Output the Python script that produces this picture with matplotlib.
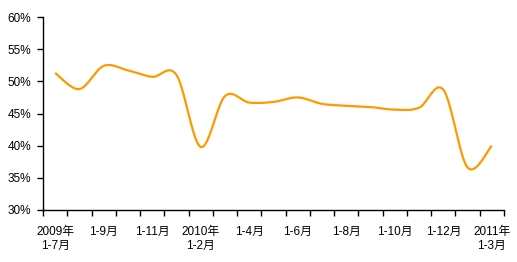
import numpy as np
import matplotlib
matplotlib.use("Agg")
import matplotlib.pyplot as plt
from matplotlib.ticker import FixedLocator, FuncFormatter

plt.rcParams['font.family'] = ['Liberation Sans', 'Noto Sans CJK SC', 'DejaVu Sans']

months = ["2009年\n1-7月", "1-8月", "1-9月", "1-10月", "1-11月", "1-12月",
          "2010年\n1-2月", "1-3月", "1-4月", "1-5月", "1-6月", "1-7月", "1-8月",
          "1-9月", "1-10月", "1-11月", "1-12月", "2011年\n1-2月", "2011年\n1-3月"]
values = [51.3, 48.8, 52.4, 51.7, 50.7, 51.0, 39.8, 47.7, 46.7, 46.8,
          47.5, 46.5, 46.2, 46.0, 45.6, 45.9, 48.7, 36.6, 40.0]
shown_labels = {0: "2009年\n1-7月", 2: "1-9月", 4: "1-11月", 6: "2010年\n1-2月",
                8: "1-4月", 10: "1-6月", 12: "1-8月", 14: "1-10月",
                16: "1-12月", 18: "2011年\n1-3月"}
yticks = [30, 35, 40, 45, 50, 55, 60]


def smooth(x, y, n=20):
    # Catmull-Rom style smoothing (as spreadsheet "smoothed line")
    x = np.asarray(x, float); y = np.asarray(y, float)
    px = np.concatenate([[x[0]], x, [x[-1]]])
    py = np.concatenate([[y[0]], y, [y[-1]]])
    xs, ys = [], []
    for i in range(1, len(px) - 2):
        p0, p1, p2, p3 = (np.array([px[j], py[j]]) for j in (i - 1, i, i + 1, i + 2))
        c1 = p1 + (p2 - p0) / 6
        c2 = p2 - (p3 - p1) / 6
        t = np.linspace(0, 1, n, endpoint=(i == len(px) - 3))[:, None]
        b = ((1 - t) ** 3) * p1 + 3 * ((1 - t) ** 2) * t * c1 + 3 * (1 - t) * t ** 2 * c2 + t ** 3 * p2
        xs.append(b[:, 0]); ys.append(b[:, 1])
    return np.concatenate(xs), np.concatenate(ys)


fig = plt.figure(figsize=(5.17, 2.62), dpi=100)
ax = fig.add_axes([43 / 517, 1 - 210 / 262, (504 - 43) / 517, (210 - 17) / 262])

x = np.arange(len(values))
sx, sy = smooth(x, values)
ax.plot(sx, sy, color='#FF9900', lw=1.6, solid_capstyle='butt')

ax.set_xlim(-0.5, len(values) - 0.5)
ax.set_ylim(30, 60)
ax.set_yticks(yticks)
ax.yaxis.set_major_formatter(FuncFormatter(lambda v, p: f"{int(v)}%"))

ax.xaxis.set_major_locator(FixedLocator(np.arange(-0.5, len(values), 1.0)))
ax.xaxis.set_major_formatter(FuncFormatter(lambda v, p: ""))
ax.xaxis.set_minor_locator(FixedLocator(list(shown_labels.keys())))
ax.xaxis.set_minor_formatter(FuncFormatter(lambda v, p: shown_labels.get(int(round(v)), "")))
ax.tick_params(axis='x', which='major', direction='out', length=4, width=1, color='black')
ax.tick_params(axis='x', which='minor', length=0, pad=11.5, labelsize=8.5)
ax.tick_params(axis='y', direction='out', length=4, width=1, labelsize=8.5, pad=4.5)
for lab in ax.xaxis.get_minorticklabels():
    lab.set_linespacing(1.25)

for s in ('top', 'right'):
    ax.spines[s].set_visible(False)
for s in ('left', 'bottom'):
    ax.spines[s].set_linewidth(1)
    ax.spines[s].set_color('black')

fig.savefig("out.png", dpi=100)
